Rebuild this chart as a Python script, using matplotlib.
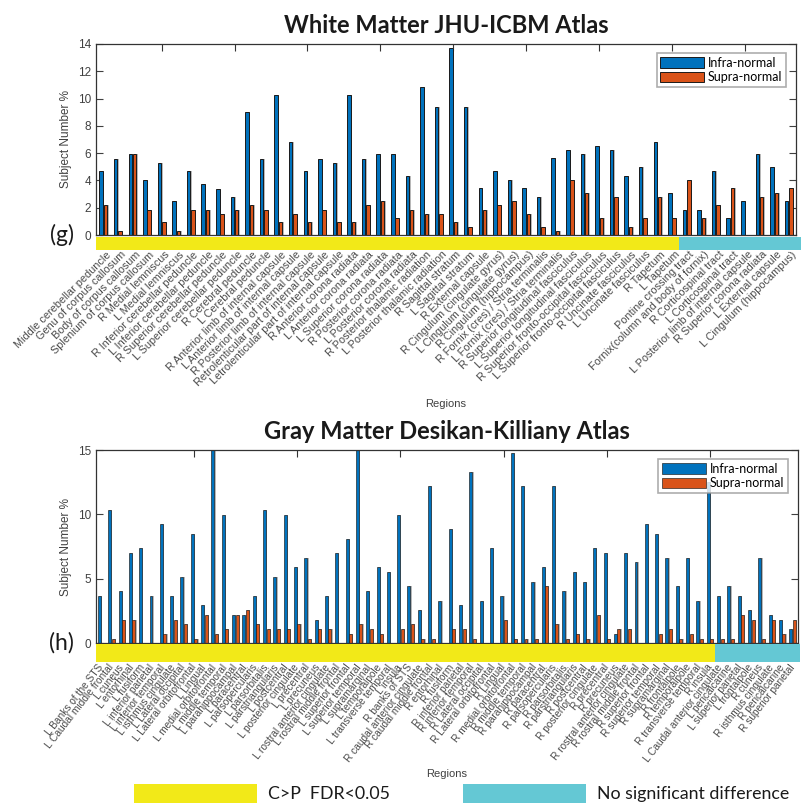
import matplotlib
matplotlib.use('Agg')
import matplotlib.pyplot as plt
import matplotlib.transforms as mtransforms
from matplotlib.patches import Rectangle
import numpy as np

# ---- White matter (JHU-ICBM) ----
wm_labels = [
    'Middle cerebellar peduncle', 'Genu of corpus callosum', 'Body of corpus callosum',
    'Splenium of corpus callosum', 'R Medial lemniscus', 'L Medial lemniscus',
    'R Inferior cerebellar peduncle', 'L Inferior cerebellar peduncle',
    'R Superior cerebellar peduncle', 'L Superior cerebellar peduncle',
    'R Cerebral peduncle', 'L Cerebral peduncle', 'R Anterior limb of internal capsule',
    'L Anterior limb of internal capsule', 'R Posterior limb of internal capsule',
    'Retrolenticular part of internal capsule', 'Letrolenticular part of internal capsule',
    'R Anterior corona radiata', 'L Anterior corona radiata', 'L Superior corona radiata',
    'R Posterior corona radiata', 'L Posterior corona radiata',
    'R Posterior thalamic radiation', 'L Posterior thalamic radiation',
    'R Sagittal stratum', 'L Sagittal stratum', 'R External capsule',
    'R Cingulum (cingulate gyrus)', 'L Cingulum (cingulate gyrus)',
    'R Cingulum (hippocampus)', 'R Fornix (cres) / Stria terminalis',
    'L Fornix (cres) / Stria terminalis', 'R Superior longitudinal fasciculus',
    'L Superior longitudinal fasciculus', 'R Superior fronto-occipital fasciculus',
    'L Superior fronto-occipital fasciculus', 'R Uncinate fasciculus',
    'L Uncinate fasciculus', 'R Tapetum', 'L Tapetum', 'Pontine crossing tract',
    'Fornix(column and body of fornix)', 'R Corticospinal tract', 'L Corticospinal tract',
    'L Posterior limb of internal capsule', 'R Superior corona radiata',
    'L External capsule', 'L Cingulum (hippocampus)']
wm_infra = [4.67, 5.6, 5.91, 4.03, 5.3, 2.47, 4.67, 3.71, 3.4, 2.79,
            9.04, 5.6, 10.26, 6.84, 4.67, 5.6, 5.3, 10.26, 5.6, 5.91,
            5.91, 4.35, 10.87, 9.36, 13.68, 9.36, 3.42, 4.67, 4.03, 3.42,
            2.81, 5.62, 6.23, 5.91, 6.55, 6.23, 4.35, 4.98, 6.84, 3.1,
            1.86, 1.86, 4.67, 1.22, 2.47, 5.91, 4.98, 2.47]
wm_supra = [2.17, 0.29, 5.91, 1.83, 0.93, 0.29, 1.83, 1.83, 1.54, 1.83,
            2.17, 1.83, 0.93, 1.54, 0.93, 1.83, 0.93, 0.93, 2.17, 2.47,
            1.22, 1.83, 1.54, 1.54, 0.93, 0.61, 1.83, 2.17, 2.47, 1.54,
            0.61, 0.29, 4.03, 3.1, 1.22, 2.81, 0.61, 1.22, 2.81, 1.22,
            4.03, 1.22, 2.17, 3.42, 0.0, 2.81, 3.1, 3.42]
wm_n_sig = 40   # first 40 regions: C>P, FDR<0.05

# ---- Gray matter (Desikan-Killiany) ----
gm_labels = [
    'L Banks of the STS', 'L Caudal middle frontal', 'L cuneus', 'L entorhinal',
    'L fusiform', 'L inferior parietal', 'L inferior temporal', 'L isthmus cingulate',
    'L Lateral occipital', 'L Lateral orbitofrontal', 'L Lingual',
    'L medial orbitofrontal', 'L middle temporal', 'L parahippocampal', 'L paracentral',
    'L parsopercularis', 'L parsorbitalis', 'L parstriangularis', 'L postcentral',
    'L posterior cingulate', 'L precentral', 'L precuneus',
    'L rostral anterior cingulate', 'L rostral middle frontal', 'L superior frontal',
    'L superior temporal', 'L supramarginal', 'L temporalpole', 'L transverse temporal',
    'L insula', 'R banks of STS', 'R caudal anterior cingulate', 'R caudal middle frontal',
    'R entorhinal', 'R fusiform', 'R inferior parietal', 'R inferior temporal',
    'R Lateral occipital', 'R Lateral orbitofrontal', 'R Lingual',
    'R medial orbitofrontal', 'R middle temporal', 'R parahippocampal', 'R paracentral',
    'R parsopercularis', 'R parsorbitalis', 'R parstriangularis', 'R postcentral',
    'R posterior cingulate', 'R precentral', 'R precuneus',
    'R rostral anterior cingulate', 'R rostral middle frontal', 'R superior frontal',
    'R superior temporal', 'R supramarginal', 'R frontalpole', 'R temporalpole',
    'R transverse temporal', 'R insula', 'L Caudal anterior cingulate', 'L pericalcarine',
    'L superior parietal', 'L frontalpole', 'R cuneus', 'R isthmus cingulate',
    'R pericalcarine', 'R superior parietal']
gm_infra = [3.70, 10.31, 4.06, 7.03, 7.37, 3.70, 9.24, 3.70, 5.16, 8.49,
            2.94, 15.0, 9.97, 2.21, 2.21, 3.70, 10.31, 5.16, 9.95, 5.89,
            6.64, 1.82, 3.70, 7.00, 8.13, 15.0, 4.06, 5.89, 5.55, 9.95,
            4.43, 2.58, 12.19, 3.31, 8.85, 2.94, 13.28, 3.31, 7.37, 3.70,
            14.77, 12.19, 4.79, 5.89, 12.19, 4.06, 5.55, 4.79, 7.37, 7.00,
            0.73, 7.00, 6.28, 9.22, 8.49, 6.64, 4.43, 6.64, 3.31, 12.5,
            3.70, 4.43, 3.70, 2.58, 6.64, 2.21, 1.82, 1.09]
gm_supra = [0.0, 0.36, 1.82, 1.82, 0.0, 0.0, 0.73, 1.82, 1.46, 0.36,
            2.21, 0.73, 1.09, 2.21, 2.58, 1.46, 1.09, 1.09, 1.09, 1.46,
            0.36, 1.09, 1.09, 0.0, 0.73, 1.46, 1.09, 0.73, 0.0, 1.09,
            1.46, 0.36, 0.36, 0.0, 1.09, 1.09, 0.36, 0.0, 0.0, 1.82,
            0.36, 0.36, 0.36, 4.43, 1.46, 0.36, 0.73, 0.36, 2.21, 0.36,
            1.09, 1.09, 0.0, 0.0, 0.73, 1.09, 0.36, 0.73, 0.36, 0.36,
            0.36, 0.36, 2.21, 1.82, 0.36, 1.82, 0.73, 1.82]
gm_n_sig = 60

BLUE = '#0072BD'
ORANGE = '#D95319'
YELLOW = '#F2E918'
CYAN = '#64C8D4'
GREY = '#404040'
TITLE_FONT = 'Lato'
TICK_FONT = 'Liberation Sans'

W, H = 801, 809
fig = plt.figure(figsize=(W / 100, H / 100), dpi=100)


def px_axes(l, t, r, b):
    # pixel box -> figure fraction
    return fig.add_axes([l / W, 1 - b / H, (r - l) / W, (b - t) / H])


def draw(ax, infra, supra, labels, n_sig, ymax, ystep, tickstep, title, tag,
         off, width, strip, rot, lab_fs, lab_pad, lab_dx, cyan_end, elw, sh):
    n = len(infra)
    x = np.arange(1, n + 1)
    # soft grey shadow to the right of each bar
    ax.bar(x - off + sh, infra, width, color='#b8b8b8', lw=0, zorder=1)
    ax.bar(x + off + sh, supra, width, color='#b8b8b8', lw=0, zorder=1)
    ax.bar(x - off, infra, width, color=BLUE, edgecolor='#1a1a1a', lw=elw,
           label='Infra-normal', zorder=2)
    ax.bar(x + off, supra, width, color=ORANGE, edgecolor='#1a1a1a', lw=elw,
           label='Supra-normal', zorder=2)
    ax.set_xlim(0.5, n + 0.5)
    ax.set_ylim(0, ymax)
    ax.set_yticks(np.arange(0, ymax + 0.01, ystep))
    ax.tick_params(axis='y', direction='in', length=5, width=0.8, colors=GREY,
                   labelsize=8.5, right=True)
    for t in ax.get_yticklabels():
        t.set_fontfamily(TICK_FONT)
    ax.set_xticks(x)
    ax.set_xticklabels(labels, rotation=rot, ha='right', va='center',
                       rotation_mode='anchor', fontsize=lab_fs, color='#4a4a4a',
                       fontfamily=TICK_FONT)
    ax.tick_params(axis='x', length=0, pad=lab_pad)
    shift = mtransforms.ScaledTranslation(lab_dx / 100, 0, fig.dpi_scale_trans)
    for t in ax.get_xticklabels():
        t.set_transform(t.get_transform() + shift)
    top = ax.secondary_xaxis('top')
    top.set_xticks(np.arange(tickstep, n, tickstep))
    top.tick_params(direction='in', length=5, width=0.8, labeltop=False, colors='#333333')
    top.spines['top'].set_visible(False)
    for s in ax.spines.values():
        s.set_color('#333333')
        s.set_linewidth(0.9)

    # significance strip under the axis
    tr = mtransforms.blended_transform_factory(ax.transData, ax.transAxes)
    ax.add_patch(Rectangle((0.5, strip[1]), n_sig, strip[0] - strip[1], transform=tr,
                           color=YELLOW, clip_on=False, lw=0, zorder=5))
    ax.add_patch(Rectangle((n_sig + 0.5, strip[1]), cyan_end - n_sig - 0.5,
                           strip[0] - strip[1], transform=tr, color=CYAN,
                           clip_on=False, lw=0, zorder=5))

    ax.set_ylabel('Subject Number %', fontsize=8.5, color=GREY, fontfamily=TICK_FONT,
                  labelpad=4)
    ax.set_title(title, fontsize=17, fontweight='bold', fontfamily=TITLE_FONT,
                 color='#1a1a1a', pad=8)
    ax.text(-0.049, 0.0, tag, transform=ax.transAxes, fontsize=16.5,
            fontfamily=TITLE_FONT, ha='center', va='center', color='#1a1a1a')
    leg = ax.legend(loc='upper right', bbox_to_anchor=(0.986, 0.953),
                    prop={'family': TITLE_FONT, 'size': 9}, frameon=True,
                    fancybox=False, edgecolor='#999999', handlelength=3.5,
                    handleheight=0.95, handletextpad=0.3, borderpad=0.3,
                    labelspacing=0.2, borderaxespad=0)
    leg.get_frame().set_linewidth(1.2)
    leg.set_zorder(10)
    return ax


ax1 = px_axes(96, 44, 796, 235)
draw(ax1, wm_infra, wm_supra, wm_labels, wm_n_sig, 14, 2, 5,
     'White Matter JHU-ICBM Atlas', '(g)', off=0.15, width=0.24,
     strip=(-0.01, -0.079), rot=45, lab_fs=7.8, lab_pad=13, lab_dx=6, cyan_end=48.85,
     elw=0.7, sh=0.1)
ax1.set_xlabel('Regions', fontsize=8, color=GREY, fontfamily=TICK_FONT, labelpad=8)

ax2 = px_axes(96, 450, 797.7, 643.3)
draw(ax2, gm_infra, gm_supra, gm_labels, gm_n_sig, 15, 5, 10,
     'Gray Matter Desikan-Killiany Atlas', '(h)', off=0.17, width=0.29,
     strip=(-0.004, -0.097), rot=52, lab_fs=7.3, lab_pad=16, lab_dx=0, cyan_end=68.72,
     elw=0.45, sh=0.12)
ax2.set_xlabel('Regions', fontsize=8, color=GREY, fontfamily=TICK_FONT, labelpad=4)

# key for the coloured strips
fig.patches.append(Rectangle((134 / W, 1 - 803 / H), 123 / W, 19 / H,
                             transform=fig.transFigure, color=YELLOW, lw=0))
fig.patches.append(Rectangle((463 / W, 1 - 803 / H), 123 / W, 19 / H,
                             transform=fig.transFigure, color=CYAN, lw=0))
fig.text(268 / W, 1 - 794 / H, 'C>P  FDR<0.05', fontsize=12.8, fontfamily=TITLE_FONT,
         va='center', ha='left', color='#1a1a1a')
fig.text(597 / W, 1 - 794 / H, 'No significant difference', fontsize=12.8,
         fontfamily=TITLE_FONT, va='center', ha='left', color='#1a1a1a')

fig.savefig('out.png', dpi=100)
